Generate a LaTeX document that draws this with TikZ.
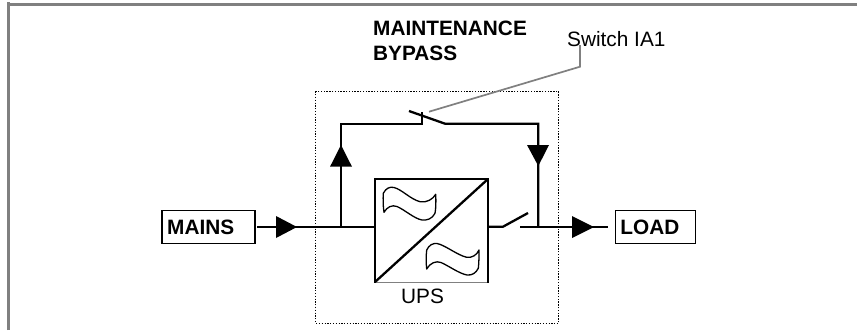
\documentclass[tikz,border=0pt]{standalone}
\usepackage{fontspec}
\setmainfont{Liberation Sans}
\usetikzlibrary{arrows.meta}
\definecolor{framegray}{RGB}{128,128,128}
\tikzset{
  x=1pt,y=-1pt,
  wire/.style={draw=black,line width=2.3pt},
  thinwire/.style={draw=black,line width=1.8pt},
  head/.style={fill=black,draw=none},
  labelbox/.style={draw=black,line width=1.3pt,inner sep=0pt,minimum width=#1,minimum height=33pt,font=\fontsize{20.8}{24}\bfseries\selectfont},
  txt/.style={inner sep=0pt,anchor=base west,font=\fontsize{20.8}{24}\selectfont},
  btxt/.style={inner sep=0pt,anchor=base west,font=\fontsize{20.8}{24}\bfseries\selectfont},
  wavestyle/.style={draw=black,line width=1.3pt,line join=round},
}
\begin{document}
\begin{tikzpicture}
\useasboundingbox (0,0) rectangle (857,330);
\fill[white] (0,0) rectangle (857,330);
% frame
\draw[framegray,line width=3pt] (8.5,330) -- (8.5,2);
\draw[framegray,line width=3pt] (7,4.5) -- (857,4.5);
% dotted enclosure
\draw[line width=1.3pt,dash pattern=on 1.3pt off 1.5pt] (315.7,91.3) rectangle (558.7,323.3);
% labels
\node[btxt] (mb1) at (373,35) {MAINTENANCE};
\node[btxt] (mb2) at (373,60.7) {BYPASS};
\node[txt] (sw) at (567,46) {Switch IA1};
\node[txt] (ups) at (401,303.3) {UPS};
\node[labelbox=93pt,anchor=west] (mains) at (161.3,227.3) {\hspace*{-15.5pt}MAINS};
\node[labelbox=80pt,anchor=west] (load) at (614.7,227.3) {\hspace*{-11pt}LOAD};
% leader
\coordinate (ldr) at (429,111.7);
\coordinate (ldrk) at (580,66.7);
\coordinate (ldrt) at (580,45);
\draw[framegray,line width=1.7pt] (ldr) -- (ldrk) -- (ldrt);
% UPS block
\coordinate (ua) at (375,179);
\coordinate (ub) at (488,179);
\coordinate (uc) at (488,282);
\coordinate (ud) at (375,282);
\draw[framegray,line width=.8pt] (ud) -- (uc);
\draw[wire,line cap=rect] (ud) -- (ua) -- (ub) -- (uc);
\draw[wire] (ud) -- (ub);
% waves
\draw[wavestyle] (383.3,193.3) .. controls (386,188) and (390,186.5) .. (394,187.5) .. controls (402,189.5) and (410,199) .. (420,201.7) .. controls (427,203) and (433,199) .. (435.7,194.3) .. controls (436,201) and (436,208) .. (435,213.3) .. controls (432,219) and (427,220.5) .. (422,220) .. controls (414,218.5) and (405,210) .. (397,206.5) .. controls (392,204.5) and (387,207) .. (384,212.3) .. controls (383,206) and (383,199) .. (383.3,193.3) -- cycle;
\draw[wavestyle] (426.7,250) .. controls (429,245) and (433,243) .. (437,243.5) .. controls (445,245) and (457,255) .. (466.7,257.3) .. controls (472,258) and (477,255) .. (479,250) .. controls (479,256) and (479,263) .. (478.3,268.3) .. controls (476,273) and (472,275.5) .. (467,275) .. controls (459,273.5) and (449,266) .. (441,262.5) .. controls (436,260.5) and (430,263) .. (426.7,269) .. controls (426,263) and (426,256) .. (426.7,250) -- cycle;
% input
\coordinate (iw) at (341,226.7);
\coordinate (ow) at (538,226.7);
\draw[thinwire] (257,226.7) -- (310,226.7);
\draw[wire] (310,226.7) -- (375,226.7);
\fill[head] (276,216) -- (297,227) -- (276,238) -- cycle;
% bypass
\draw[wire,line join=miter] (iw) -- (341,123.7) -- (421.7,123.7) -- (421.7,112);
\draw[wire,line join=miter] (409,111) -- (445,123.7) -- (538.3,123.7) -- (538.3,226.7);
\fill[head] (330,166.7) -- (341,145) -- (352,166.7) -- cycle;
\fill[head] (527,145) -- (549,145) -- (538.3,166) -- cycle;
% output
\draw[wire] (488,226.7) -- (503,226.7) -- (528,213);
\draw[wire] (520,226.7) -- (607.7,226.7);
\fill[head] (572,216) -- (594,227) -- (572,238) -- cycle;
\end{tikzpicture}
\end{document}
